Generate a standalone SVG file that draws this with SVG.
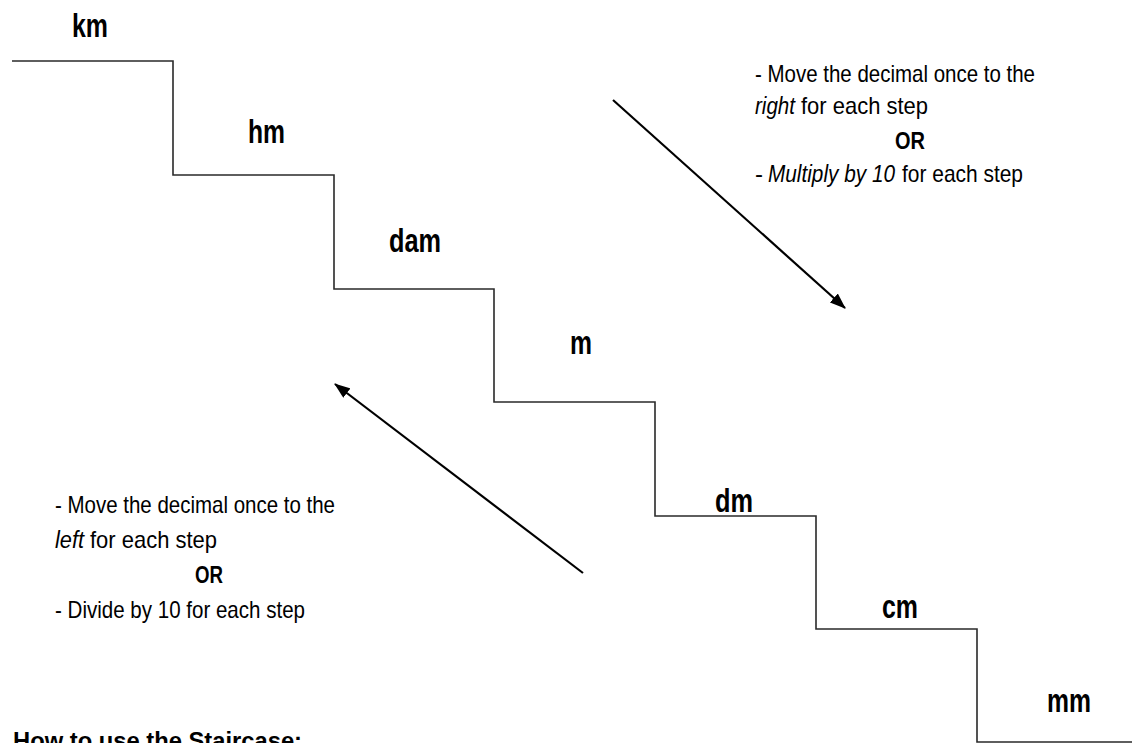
<svg xmlns="http://www.w3.org/2000/svg" width="1132" height="743" viewBox="0 0 1132 743">
  <defs>
    <style>
      .stair { fill: none; stroke: #2a2a2a; stroke-width: 1.6; }
      .arrow { stroke: #000; stroke-width: 2.2; fill: none; }
      .lbl { font-family: "Liberation Sans", Arial, sans-serif; font-weight: bold; font-size: 34px; fill: #000; }
      .txt { font-family: "Liberation Sans", Arial, sans-serif; font-size: 24px; fill: #000; }
      .or { font-weight: bold; }
      .it { font-style: italic; }
    </style>
    <marker id="ah" markerUnits="userSpaceOnUse" markerWidth="16" markerHeight="12" refX="15" refY="6" orient="auto">
      <path d="M0,0 L16,6 L0,12 z" fill="#000"/>
    </marker>
  </defs>
  <rect width="1132" height="743" fill="#fff"/>

  <g id="staircase">
    <path class="stair" d="M12,61 H173 V175 H334 V289 H494 V402 H655 V516 H816 V629 H977 V742 H1132"/>
  </g>

  <g id="label-km"><text class="lbl" x="72" y="37" textLength="36" lengthAdjust="spacingAndGlyphs">km</text></g>
  <g id="label-hm"><text class="lbl" x="248" y="143" textLength="37" lengthAdjust="spacingAndGlyphs">hm</text></g>
  <g id="label-dam"><text class="lbl" x="389" y="252" textLength="52" lengthAdjust="spacingAndGlyphs">dam</text></g>
  <g id="label-m"><text class="lbl" x="570" y="354" textLength="22" lengthAdjust="spacingAndGlyphs">m</text></g>
  <g id="label-dm"><text class="lbl" x="715" y="512" textLength="38" lengthAdjust="spacingAndGlyphs">dm</text></g>
  <g id="label-cm"><text class="lbl" x="882" y="618" textLength="36" lengthAdjust="spacingAndGlyphs">cm</text></g>
  <g id="label-mm"><text class="lbl" x="1047" y="712" textLength="44" lengthAdjust="spacingAndGlyphs">mm</text></g>

  <g id="connectors">
    <line class="arrow" x1="613" y1="100" x2="845" y2="308" marker-end="url(#ah)"/>
    <line class="arrow" x1="583" y1="573" x2="335" y2="384" marker-end="url(#ah)"/>
  </g>

  <g id="note-right">
    <text class="txt" x="755" y="82" textLength="280" lengthAdjust="spacingAndGlyphs">- Move the decimal once to the</text>
    <text class="txt it" x="755" y="114" textLength="40" lengthAdjust="spacingAndGlyphs">right</text>
    <text class="txt" x="801" y="114" textLength="127" lengthAdjust="spacingAndGlyphs">for each step</text>
    <text class="txt or" x="895" y="149" textLength="30" lengthAdjust="spacingAndGlyphs">OR</text>
    <text class="txt" x="755" y="182">-</text>
    <text class="txt it" x="768" y="182" textLength="127" lengthAdjust="spacingAndGlyphs">Multiply by 10</text>
    <text class="txt" x="902" y="182" textLength="121" lengthAdjust="spacingAndGlyphs">for each step</text>
  </g>

  <g id="note-left">
    <text class="txt" x="55" y="513" textLength="280" lengthAdjust="spacingAndGlyphs">- Move the decimal once to the</text>
    <text class="txt it" x="55" y="548" textLength="29" lengthAdjust="spacingAndGlyphs">left</text>
    <text class="txt" x="90" y="548" textLength="127" lengthAdjust="spacingAndGlyphs">for each step</text>
    <text class="txt or" x="195" y="583" textLength="28" lengthAdjust="spacingAndGlyphs">OR</text>
    <text class="txt" x="55" y="618" textLength="250" lengthAdjust="spacingAndGlyphs">- Divide by 10 for each step</text>
  </g>

  <g id="heading">
    <text class="txt" font-weight="bold" x="13" y="749" textLength="289" lengthAdjust="spacingAndGlyphs">How to use the Staircase:</text>
  </g>
</svg>
